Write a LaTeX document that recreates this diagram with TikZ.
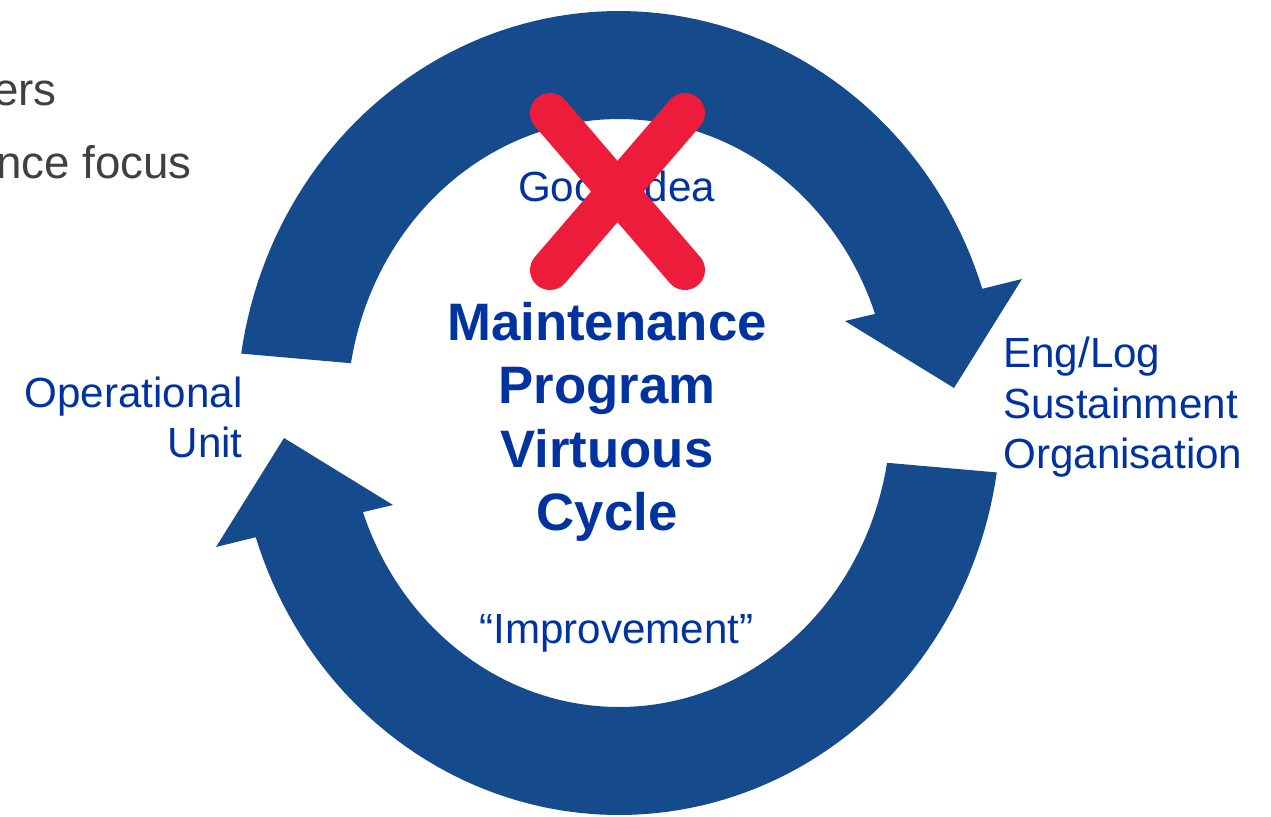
\documentclass[tikz,border=0pt]{standalone}
\usepackage{fontspec}
\setmainfont{Liberation Sans}
\definecolor{arrowblue}{RGB}{21,75,141}
\definecolor{textblue}{RGB}{0,51,160}
\definecolor{crossred}{RGB}{237,28,58}
\definecolor{graytext}{RGB}{64,64,64}
\tikzset{
  cyclearrow/.style={fill=arrowblue},
  lbl/.style={inner sep=0pt, text=textblue, font=\fontsize{24}{28.8}\selectfont},
  title/.style={inner sep=0pt, text=textblue, font=\fontsize{30}{36}\selectfont\bfseries},
  bullet/.style={inner sep=0pt, text=graytext, font=\fontsize{26}{31}\selectfont},
  crossbar/.style={draw=crossred, line width=0.8cm, line cap=round}
}
\begin{document}
\begin{tikzpicture}[x=0.02cm, y=-0.02cm]
\useasboundingbox (0,0) rectangle (1271,816);
\clip (0,0) rectangle (1271,816);

% top arrow (clockwise, pointing to the right side)
\fill[cyclearrow]
  plot[domain=171.5:18, samples=90] ({619+382*cos(\x)},{413-402*sin(\x)})
  -- (1022,279) -- (954,388) -- (845,321)
  -- plot[domain=19.7:170.25, samples=90] ({619+272*cos(\x)},{413-294*sin(\x)})
  -- cycle;

% bottom arrow (pointing to the left side)
\fill[cyclearrow]
  plot[domain=351.5:198, samples=90] ({619+382*cos(\x)},{413-402*sin(\x)})
  -- (216,547) -- (284,438) -- (393,505)
  -- plot[domain=199.7:350.25, samples=90] ({619+272*cos(\x)},{413-294*sin(\x)})
  -- cycle;

% clipped bullet text at top left
\node[bullet, anchor=base east] (b1) at (57,105) {ers};
\node[bullet, anchor=base east] (b2) at (192,178) {nce focus};

% labels
\node[lbl, anchor=base] (idea) at (616.5,201) {Good Idea};
\node[title, anchor=base] (t1) at (607,340) {Maintenance};
\node[title, anchor=base] (t2) at (607,403.5) {Program};
\node[title, anchor=base] (t3) at (607,467) {Virtuous};
\node[title, anchor=base] (t4) at (607,530) {Cycle};
\node[lbl, anchor=base] (impr) at (616.5,643) {“Improvement”};
\node[lbl, anchor=base east] (op1) at (243,407) {Operational};
\node[lbl, anchor=base east] (op2) at (243,457) {Unit};
\node[lbl, anchor=base west] (en1) at (1003,367) {Eng/Log};
\node[lbl, anchor=base west] (en2) at (1003,418) {Sustainment};
\node[lbl, anchor=base west] (en3) at (1003,468) {Organisation};

% red cross over "Good Idea"
\coordinate (xa) at (550,113);
\coordinate (xb) at (685,270);
\coordinate (xc) at (685,113);
\coordinate (xd) at (550,270);
\draw[crossbar] (xa) -- (xb);
\draw[crossbar] (xc) -- (xd);
\end{tikzpicture}
\end{document}
